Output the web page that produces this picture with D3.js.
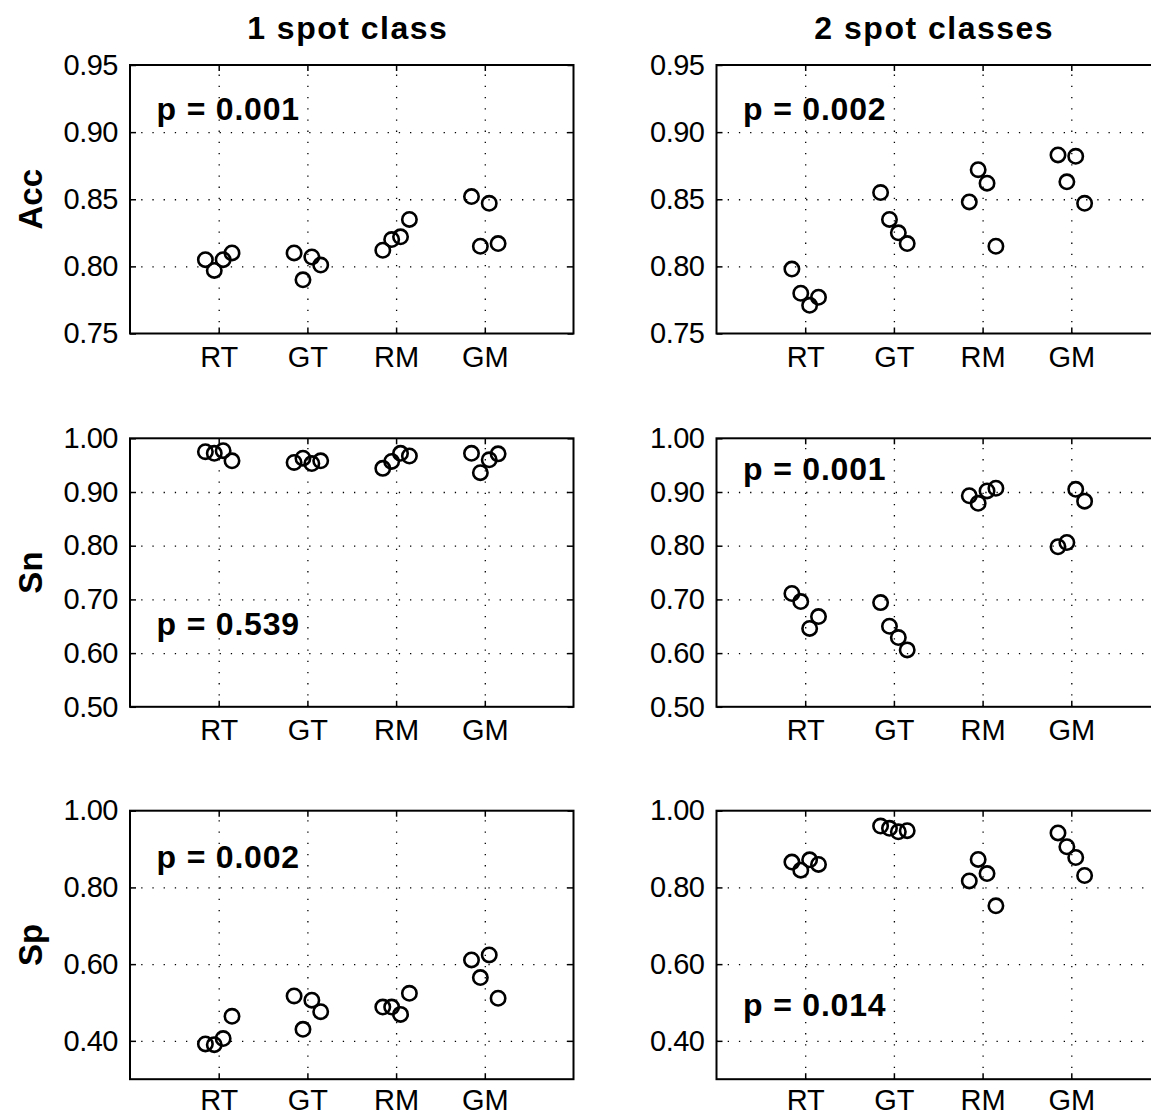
<!DOCTYPE html>
<html>
<head>
<meta charset="utf-8">
<script src="https://cdn.jsdelivr.net/npm/d3@7"></script>
<style>
  body { margin: 0; background: #fff; }
  svg { display: block; }
  text { font-family: "Liberation Sans", Arial, sans-serif; fill: #000; }
</style>
</head>
<body>
<svg id="chart" width="1151" height="1116"></svg>
<script>
// categories on the x axis and the small horizontal offsets of the 4 repeats
const categories = ["RT", "GT", "RM", "GM"];
const jitter = [-0.15, -0.05, 0.05, 0.15];

const colTitles = ["1 spot class", "2 spot classes"];
const rowLabels = ["Acc", "Sn", "Sp"];

// values per category (RT, GT, RM, GM), 4 repeats each
const accOne = [
  [0.805, 0.797, 0.805, 0.810],
  [0.810, 0.790, 0.807, 0.801],
  [0.812, 0.820, 0.822, 0.835],
  [0.852, 0.815, 0.847, 0.817]
];
const accTwo = [
  [0.798, 0.780, 0.771, 0.777],
  [0.855, 0.835, 0.825, 0.817],
  [0.848, 0.872, 0.862, 0.815],
  [0.883, 0.863, 0.882, 0.847]
];
const snOne = [
  [0.975, 0.972, 0.977, 0.958],
  [0.955, 0.963, 0.953, 0.958],
  [0.944, 0.957, 0.972, 0.967],
  [0.972, 0.936, 0.960, 0.971]
];
const snTwo = [
  [0.711, 0.696, 0.646, 0.668],
  [0.694, 0.650, 0.629, 0.606],
  [0.893, 0.879, 0.902, 0.907],
  [0.798, 0.806, 0.905, 0.883]
];
const spOne = [
  [0.392, 0.390, 0.406, 0.464],
  [0.517, 0.430, 0.506, 0.476],
  [0.488, 0.488, 0.469, 0.524],
  [0.611, 0.565, 0.624, 0.511]
];
const spTwo = [
  [0.866, 0.845, 0.872, 0.860],
  [0.960, 0.954, 0.945, 0.948],
  [0.817, 0.873, 0.836, 0.752],
  [0.942, 0.906, 0.878, 0.831]
];

const accTicks = [0.75, 0.80, 0.85, 0.90, 0.95];
const snTicks = [0.5, 0.6, 0.7, 0.8, 0.9, 1.0];
const spTicks = [0.4, 0.6, 0.8, 1.0];
const yDomains = [[0.75, 0.95], [0.5, 1.0], [0.3, 1.0]];

// p-value labels, row by row (left, right) and the y value of their baseline
const pLabels = ["p = 0.001", "p = 0.002", "p = 0.539", "p = 0.001", "p = 0.002", "p = 0.014"];
const pLevels = [0.909, 0.909, 0.633, 0.922, 0.850, 0.464];

const rows = [
  { label: rowLabels[0], data: [accOne, accTwo], ticks: accTicks, domain: yDomains[0] },
  { label: rowLabels[1], data: [snOne, snTwo], ticks: snTicks, domain: yDomains[1] },
  { label: rowLabels[2], data: [spOne, spTwo], ticks: spTicks, domain: yDomains[2] }
];

const svg = d3.select("#chart");
const colLeft = [130, 716.5];
const panelW = 443.5;
const rowTop = [65, 438.3, 810.7];
const panelH = 268.5;

function dotted(sel) {
  sel.selectAll("line")
    .attr("stroke", "#000")
    .attr("stroke-width", 1.3)
    .attr("stroke-dasharray", "1.3 9.9");
}

function drawPanel(r, c) {
  const row = rows[r];
  const g = svg.append("g")
    .attr("transform", `translate(${colLeft[c]},${rowTop[r]})`);

  const x = d3.scaleLinear().domain([0, 5]).range([0, panelW]);
  const y = d3.scaleLinear().domain(row.domain).range([panelH, 0]);
  const inner = row.ticks.filter(t => t > row.domain[0] + 1e-9 && t < row.domain[1] - 1e-9);

  // grid
  g.append("g")
    .call(d3.axisLeft(y).tickValues(inner).tickSize(-panelW).tickFormat(""))
    .call(a => a.select(".domain").remove())
    .call(dotted);
  g.append("g")
    .attr("transform", `translate(0,${panelH})`)
    .call(d3.axisBottom(x).tickValues([1, 2, 3, 4]).tickSize(-panelH).tickFormat(""))
    .call(a => a.select(".domain").remove())
    .call(dotted);

  // axes with inward ticks
  const yAxis = g.append("g")
    .call(d3.axisLeft(y).tickValues(row.ticks).tickSize(-6).tickPadding(12).tickFormat(d3.format(".2f")));
  yAxis.select(".domain").remove();
  yAxis.selectAll("line").attr("stroke", "#000").attr("stroke-width", 1.5);
  yAxis.selectAll("text")
    .style("font-size", "29px")
    .style("letter-spacing", "-0.5px")
    .attr("fill", "#000");

  // the last row sits against the page bottom, so its labels go a little higher
  const xPad = r === rows.length - 1 ? 10 : 13;
  const xAxis = g.append("g")
    .attr("transform", `translate(0,${panelH})`)
    .call(d3.axisBottom(x).tickValues([1, 2, 3, 4]).tickSize(-6).tickPadding(xPad).tickFormat(d => categories[d - 1]));
  xAxis.select(".domain").remove();
  xAxis.selectAll("line").attr("stroke", "#000").attr("stroke-width", 1.5);
  xAxis.selectAll("text").style("font-size", "29px").attr("fill", "#000");

  g.append("g")
    .call(d3.axisTop(x).tickValues([1, 2, 3, 4]).tickSize(-6).tickFormat(""))
    .call(a => a.select(".domain").remove())
    .selectAll("line").attr("stroke", "#000").attr("stroke-width", 1.5);
  g.append("g")
    .attr("transform", `translate(${panelW},0)`)
    .call(d3.axisRight(y).tickValues(row.ticks).tickSize(-6).tickFormat(""))
    .call(a => a.select(".domain").remove())
    .selectAll("line").attr("stroke", "#000").attr("stroke-width", 1.5);

  // box
  g.append("rect")
    .attr("x", 0).attr("y", 0)
    .attr("width", panelW).attr("height", panelH)
    .attr("fill", "none")
    .attr("stroke", "#000")
    .attr("stroke-width", 2);

  // points
  const pts = [];
  row.data[c].forEach((vals, i) => {
    vals.forEach((v, j) => pts.push({ pos: i + 1 + jitter[j], value: v }));
  });
  g.selectAll("circle.pt")
    .data(pts)
    .join("circle")
    .attr("class", "pt")
    .attr("cx", d => x(d.pos))
    .attr("cy", d => y(d.value))
    .attr("r", 7.2)
    .attr("fill", "none")
    .attr("stroke", "#000")
    .attr("stroke-width", 2.6);

  // p value
  const k = r * 2 + c;
  g.append("text")
    .attr("x", x(0.3))
    .attr("y", y(pLevels[k]))
    .style("font-size", "32px")
    .style("font-weight", "bold")
    .style("letter-spacing", "0.8px")
    .text(pLabels[k]);

  if (r === 0) {
    svg.append("text")
      .attr("x", colLeft[c] + panelW / 2 - 4)
      .attr("y", 39)
      .attr("text-anchor", "middle")
      .style("font-size", "32px")
      .style("font-weight", "bold")
      .style("letter-spacing", "1.5px")
      .text(colTitles[c]);
  }
  if (c === 0) {
    svg.append("text")
      .attr("transform", `translate(42,${rowTop[r] + panelH / 2}) rotate(-90)`)
      .attr("text-anchor", "middle")
      .style("font-size", "33px")
      .style("font-weight", "bold")
      .text(row.label);
  }
}

rows.forEach((row, r) => {
  colLeft.forEach((_, c) => drawPanel(r, c));
});
</script>
</body>
</html>
